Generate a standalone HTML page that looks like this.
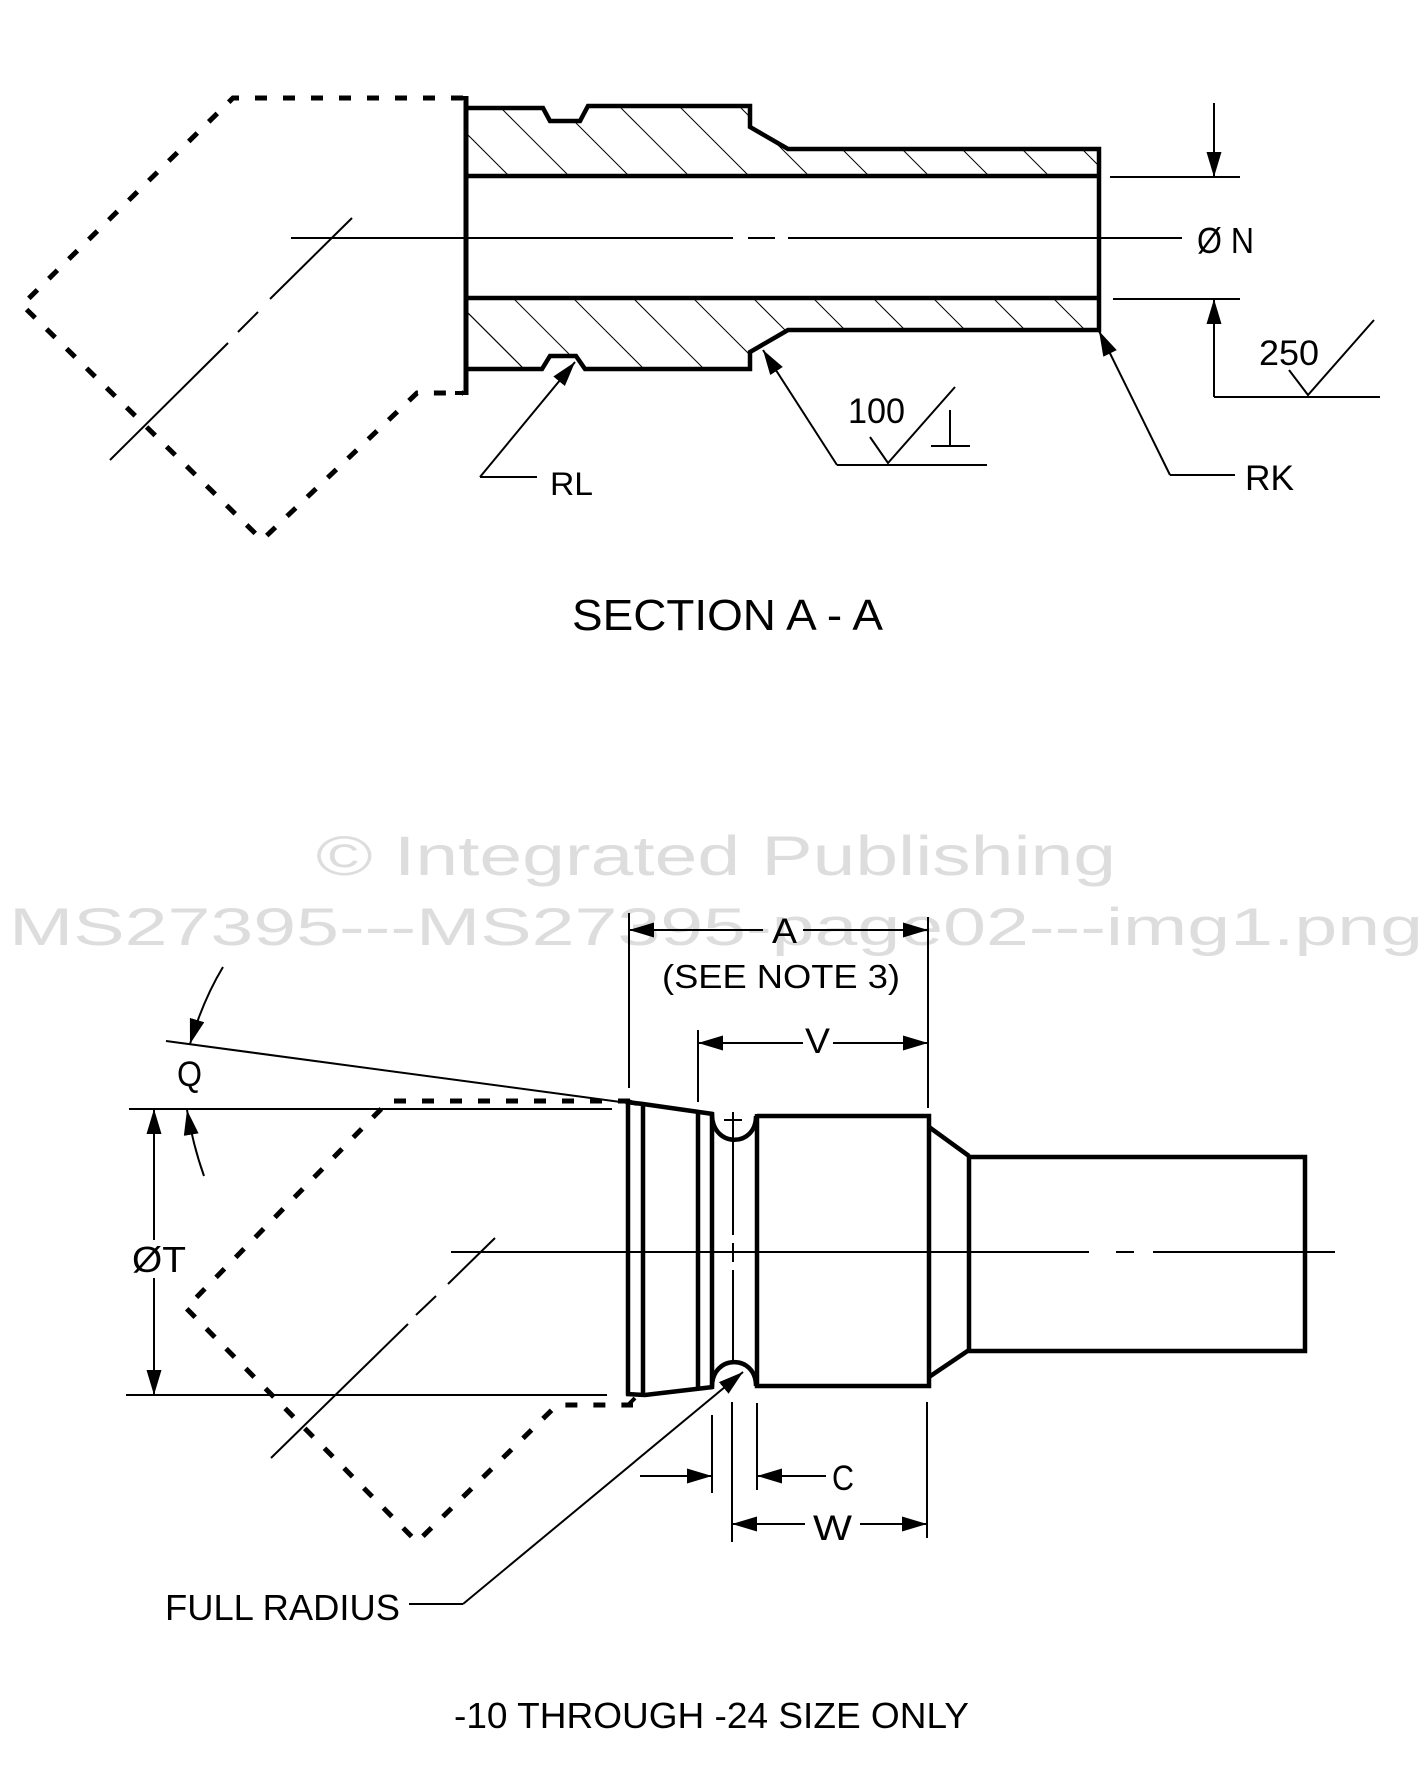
<!DOCTYPE html>
<html>
<head>
<meta charset="utf-8">
<style>
html,body{margin:0;padding:0;background:#fff;}
svg{display:block;}
text{font-family:"Liberation Sans",Arial,sans-serif;}
</style>
</head>
<body>
<svg width="1427" height="1788" viewBox="0 0 1427 1788" xmlns="http://www.w3.org/2000/svg">
<defs>
  <marker id="ah" markerUnits="userSpaceOnUse" markerWidth="27" markerHeight="16" refX="25" refY="7.5" orient="auto">
    <path d="M0,0 L25,7.5 L0,15 z" fill="#000"/>
  </marker>
  <clipPath id="topHatch">
    <polygon points="467,108 543,108 550,121 580,121 588,106 750,106 750,127 788,149 1099,149 1099,176 467,176"/>
  </clipPath>
  <clipPath id="botHatch">
    <polygon points="467,298 1099,298 1099,330 788,330 750,352 750,369 585,369 576,356 550,356 542,369 467,369"/>
  </clipPath>
</defs>
<rect x="0" y="0" width="1427" height="1788" fill="#fff"/>

<!-- watermark -->
<text x="316" y="875" font-size="56" fill="#dddddd" textLength="800" lengthAdjust="spacingAndGlyphs">© Integrated Publishing</text>
<text x="9" y="945" font-size="53" fill="#dddddd" textLength="1414" lengthAdjust="spacingAndGlyphs">MS27395---MS27395-page02---img1.png</text>

<!-- ================= SECTION A-A ================= -->
<!-- phantom dashed outline -->
<path d="M463,98 L233,98 L22,305 L262,540 L417,393 L463,393" fill="none" stroke="#000" stroke-width="5" stroke-dasharray="12 16"/>
<line x1="455" y1="98" x2="466" y2="98" stroke="#000" stroke-width="4"/>
<line x1="455" y1="393" x2="466" y2="393" stroke="#000" stroke-width="4"/>
<line x1="466" y1="96" x2="466" y2="395" stroke="#000" stroke-width="5"/>

<!-- hatching -->
<g clip-path="url(#topHatch)" stroke="#000" stroke-width="1">
  <line x1="433" y1="100" x2="513" y2="180"/>
  <line x1="493" y1="100" x2="573" y2="180"/>
  <line x1="553" y1="100" x2="633" y2="180"/>
  <line x1="613" y1="100" x2="693" y2="180"/>
  <line x1="673" y1="100" x2="753" y2="180"/>
  <line x1="733" y1="100" x2="813" y2="180"/>
  <line x1="793" y1="100" x2="873" y2="180"/>
  <line x1="853" y1="100" x2="933" y2="180"/>
  <line x1="913" y1="100" x2="993" y2="180"/>
  <line x1="973" y1="100" x2="1053" y2="180"/>
  <line x1="1033" y1="100" x2="1113" y2="180"/>
  <line x1="1093" y1="100" x2="1173" y2="180"/>
</g>
<g clip-path="url(#botHatch)" stroke="#000" stroke-width="1">
  <line x1="385" y1="230" x2="535" y2="380"/>
  <line x1="445" y1="290" x2="530" y2="375"/>
  <line x1="505" y1="290" x2="590" y2="375"/>
  <line x1="565" y1="290" x2="650" y2="375"/>
  <line x1="625" y1="290" x2="710" y2="375"/>
  <line x1="685" y1="290" x2="770" y2="375"/>
  <line x1="745" y1="290" x2="830" y2="375"/>
  <line x1="805" y1="290" x2="890" y2="375"/>
  <line x1="865" y1="290" x2="950" y2="375"/>
  <line x1="925" y1="290" x2="1010" y2="375"/>
  <line x1="985" y1="290" x2="1070" y2="375"/>
  <line x1="1045" y1="290" x2="1130" y2="375"/>
  <line x1="1105" y1="290" x2="1190" y2="375"/>
</g>

<!-- body outline -->
<path d="M466,108 L543,108 L550,121 L580,121 L588,106 L750,106 L750,127 L788,149 L1099,149 L1099,330 L788,330 L750,352 L750,369 L585,369 L576,356 L550,356 L542,369 L466,369" fill="none" stroke="#000" stroke-width="4.5" stroke-linejoin="miter"/>
<line x1="466" y1="176" x2="1099" y2="176" stroke="#000" stroke-width="4.5"/>
<line x1="466" y1="298" x2="1099" y2="298" stroke="#000" stroke-width="4.5"/>

<!-- centerlines -->
<g stroke="#000" stroke-width="2" fill="none">
  <line x1="291" y1="238" x2="733" y2="238"/>
  <line x1="748" y1="238" x2="775" y2="238"/>
  <line x1="788" y1="238" x2="1182" y2="238"/>
  <line x1="352" y1="218" x2="270" y2="299"/>
  <line x1="258" y1="312" x2="238" y2="332"/>
  <line x1="228" y1="343" x2="110" y2="460"/>
</g>

<!-- ØN dimension -->
<g stroke="#000" stroke-width="2" fill="none">
  <line x1="1110" y1="177" x2="1240" y2="177"/>
  <line x1="1113" y1="299" x2="1240" y2="299"/>
  <line x1="1214" y1="103" x2="1214" y2="177" marker-end="url(#ah)"/>
  <line x1="1214" y1="397" x2="1214" y2="299" marker-end="url(#ah)"/>
  <line x1="1214" y1="397" x2="1380" y2="397"/>
  <polyline points="1289,370 1308,395 1374,320"/>
</g>
<text x="1197" y="253" font-size="36" textLength="57" lengthAdjust="spacingAndGlyphs">Ø N</text>
<text x="1259" y="365" font-size="35" textLength="60" lengthAdjust="spacingAndGlyphs">250</text>

<!-- RK leader -->
<g stroke="#000" stroke-width="2" fill="none">
  <line x1="1170" y1="475" x2="1099" y2="331" marker-end="url(#ah)"/>
  <line x1="1170" y1="475" x2="1235" y2="475"/>
</g>
<text x="1245" y="490" font-size="35" textLength="49" lengthAdjust="spacingAndGlyphs">RK</text>

<!-- RL leader -->
<g stroke="#000" stroke-width="2" fill="none">
  <line x1="480" y1="477" x2="575" y2="362" marker-end="url(#ah)"/>
  <line x1="480" y1="477" x2="537" y2="477"/>
</g>
<text x="550" y="495" font-size="32" textLength="43" lengthAdjust="spacingAndGlyphs">RL</text>

<!-- 100 leader -->
<g stroke="#000" stroke-width="2" fill="none">
  <line x1="837" y1="465" x2="763" y2="350" marker-end="url(#ah)"/>
  <line x1="837" y1="465" x2="987" y2="465"/>
  <polyline points="870,437 888,463 955,387"/>
  <line x1="950" y1="410" x2="950" y2="446"/>
  <line x1="931" y1="446" x2="970" y2="446"/>
</g>
<text x="848" y="423" font-size="35" textLength="57" lengthAdjust="spacingAndGlyphs">100</text>

<text x="572" y="630" font-size="44" textLength="311" lengthAdjust="spacingAndGlyphs">SECTION A - A</text>

<!-- ================= LOWER VIEW ================= -->
<!-- phantom dashed outline -->
<path d="M630,1101 L389,1101 L186,1308 L417,1542 L557,1405 L633,1405" fill="none" stroke="#000" stroke-width="5" stroke-dasharray="12 16"/>
<line x1="628" y1="1101" x2="637" y2="1104" stroke="#000" stroke-width="4"/>
<line x1="628" y1="1405" x2="635" y2="1398" stroke="#000" stroke-width="4"/>

<!-- Q -->
<g stroke="#000" stroke-width="2" fill="none">
  <line x1="166" y1="1041" x2="628" y2="1103"/>
  <path d="M223,967 Q203,1000 190,1044" marker-end="url(#ah)"/>
  <path d="M204,1176 Q193,1145 187,1110" marker-end="url(#ah)"/>
</g>
<text x="177" y="1086" font-size="35" textLength="25" lengthAdjust="spacingAndGlyphs">Q</text>

<!-- ØT -->
<g stroke="#000" stroke-width="2" fill="none">
  <line x1="129" y1="1109" x2="612" y2="1109"/>
  <line x1="126" y1="1395" x2="607" y2="1395"/>
  <line x1="154" y1="1240" x2="154" y2="1109" marker-end="url(#ah)"/>
  <line x1="154" y1="1278" x2="154" y2="1395" marker-end="url(#ah)"/>
</g>
<text x="132" y="1272" font-size="36" textLength="54" lengthAdjust="spacingAndGlyphs">ØT</text>

<!-- centerlines -->
<g stroke="#000" stroke-width="2" fill="none">
  <line x1="451" y1="1252" x2="1089" y2="1252"/>
  <line x1="1116" y1="1252" x2="1134" y2="1252"/>
  <line x1="1153" y1="1252" x2="1335" y2="1252"/>
  <line x1="495" y1="1238" x2="448" y2="1284"/>
  <line x1="436" y1="1296" x2="416" y2="1315"/>
  <line x1="408" y1="1324" x2="271" y2="1458"/>
  <!-- groove centerline -->
  <line x1="733" y1="1112" x2="733" y2="1235"/>
  <line x1="733" y1="1243" x2="733" y2="1262"/>
  <line x1="733" y1="1270" x2="733" y2="1360"/>
  <line x1="724" y1="1120" x2="742" y2="1120"/>
</g>

<!-- body -->
<g stroke="#000" stroke-width="4.5" fill="none" stroke-linejoin="miter">
  <line x1="628" y1="1101" x2="628" y2="1395"/>
  <line x1="643" y1="1103" x2="643" y2="1396"/>
  <polyline points="626,1102 643,1104 713,1114"/>
  <polyline points="626,1394 645,1395 713,1387"/>
  <line x1="698" y1="1112" x2="698" y2="1389"/>
  <line x1="712" y1="1112" x2="712" y2="1389"/>
  <path d="M712,1114 C712,1148 756,1148 756,1116"/>
  <path d="M712,1387 C712,1354 756,1354 756,1386"/>
  <polyline points="757,1114 757,1116 929,1116 929,1386 757,1386 757,1114"/>
  <line x1="929" y1="1127" x2="969" y2="1156"/>
  <line x1="929" y1="1377" x2="969" y2="1350"/>
  <rect x="969" y="1157" width="336" height="194"/>
</g>

<!-- A dimension -->
<g stroke="#000" stroke-width="2" fill="none">
  <line x1="629" y1="913" x2="629" y2="1088"/>
  <line x1="928" y1="917" x2="928" y2="1108"/>
  <line x1="763" y1="930" x2="629" y2="930" marker-end="url(#ah)"/>
  <line x1="803" y1="930" x2="928" y2="930" marker-end="url(#ah)"/>
</g>
<text x="772" y="943" font-size="35" textLength="25" lengthAdjust="spacingAndGlyphs">A</text>
<text x="662" y="988" font-size="33" textLength="238" lengthAdjust="spacingAndGlyphs">(SEE NOTE 3)</text>

<!-- V dimension -->
<g stroke="#000" stroke-width="2" fill="none">
  <line x1="698" y1="1030" x2="698" y2="1102"/>
  <line x1="803" y1="1043" x2="698" y2="1043" marker-end="url(#ah)"/>
  <line x1="833" y1="1043" x2="928" y2="1043" marker-end="url(#ah)"/>
</g>
<text x="805" y="1053" font-size="35" textLength="25" lengthAdjust="spacingAndGlyphs">V</text>

<!-- C dimension -->
<g stroke="#000" stroke-width="2" fill="none">
  <line x1="712" y1="1415" x2="712" y2="1493"/>
  <line x1="640" y1="1476" x2="712" y2="1476" marker-end="url(#ah)"/>
  <line x1="757" y1="1403" x2="757" y2="1490"/>
  <line x1="826" y1="1476" x2="757" y2="1476" marker-end="url(#ah)"/>
</g>
<text x="832" y="1490" font-size="35" textLength="22" lengthAdjust="spacingAndGlyphs">C</text>

<!-- W dimension -->
<g stroke="#000" stroke-width="2" fill="none">
  <line x1="732" y1="1402" x2="732" y2="1542"/>
  <line x1="927" y1="1402" x2="927" y2="1538"/>
  <line x1="805" y1="1524" x2="732" y2="1524" marker-end="url(#ah)"/>
  <line x1="860" y1="1524" x2="927" y2="1524" marker-end="url(#ah)"/>
</g>
<text x="813" y="1540" font-size="35" textLength="39" lengthAdjust="spacingAndGlyphs">W</text>

<!-- FULL RADIUS leader -->
<g stroke="#000" stroke-width="2" fill="none">
  <line x1="463" y1="1604" x2="743" y2="1372" marker-end="url(#ah)"/>
  <line x1="409" y1="1604" x2="463" y2="1604"/>
</g>
<text x="165" y="1620" font-size="36" textLength="235" lengthAdjust="spacingAndGlyphs">FULL RADIUS</text>

<text x="454" y="1728" font-size="36" textLength="515" lengthAdjust="spacingAndGlyphs">-10 THROUGH -24 SIZE ONLY</text>
</svg>
</body>
</html>
